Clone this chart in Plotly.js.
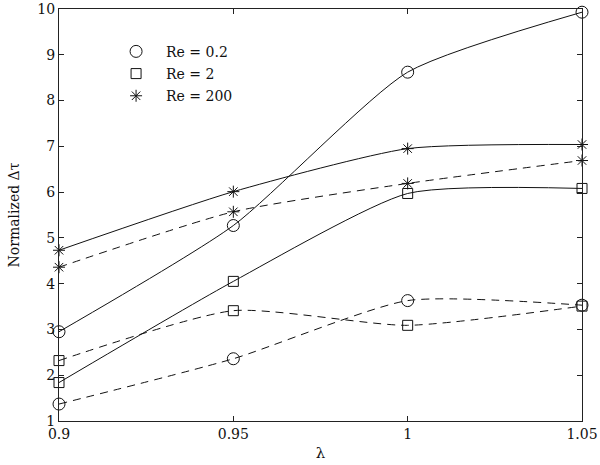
<!DOCTYPE html>
<html>
<head>
<meta charset="utf-8">
<script src="https://cdn.plot.ly/plotly-3.0.1.min.js"></script>
<style>html,body{margin:0;padding:0;background:#fff;}#chart{width:600px;height:465px;}</style>
</head>
<body>
<div id="chart"></div>
<script>
const lambda = [0.9, 0.95, 1.0, 1.05];
const re02Solid = [2.95, 5.27, 8.62, 9.93];
const re02Dashed = [1.37, 2.36, 3.63, 3.53];
const re2Solid = [1.84, 4.05, 5.97, 6.08];
const re2Dashed = [2.32, 3.41, 3.09, 3.51];
const re200Solid = [4.73, 6.01, 6.95, 7.04];
const re200Dashed = [4.36, 5.57, 6.19, 6.69];
const legendLabels = ['Re = 0.2', 'Re = 2', 'Re = 200'];
const xTicks = [0.9, 0.95, 1, 1.05];
const yTicks = [1, 2, 3, 4, 5, 6, 7, 8, 9, 10];

const FONT = "DejaVu Serif, serif";
const symbols = ['circle-open', 'square-open', 'asterisk-open'];
const sizes = [12, 10, 10];
const series = [
  {y: re02Solid, s: 0, dash: 'solid'},
  {y: re02Dashed, s: 0, dash: '8px,6px'},
  {y: re2Solid, s: 1, dash: 'solid'},
  {y: re2Dashed, s: 1, dash: '8px,6px'},
  {y: re200Solid, s: 2, dash: 'solid'},
  {y: re200Dashed, s: 2, dash: '8px,6px'}
];
const traces = series.map(d => ({
  x: lambda, y: d.y, type: 'scatter', mode: 'lines+markers',
  line: {color: '#111', width: 1, shape: 'spline', smoothing: 0.6, dash: d.dash},
  marker: {symbol: symbols[d.s], size: sizes[d.s], color: '#111', line: {width: 1, color: '#111'}},
  showlegend: false, cliponaxis: false
}));
legendLabels.forEach((name, i) => {
  traces.push({
    x: [null], y: [null], type: 'scatter', mode: 'markers', name: name,
    legendgroup: 'g' + i,
    marker: {symbol: symbols[i], size: sizes[i], color: '#111', line: {width: 1, color: '#111'}},
    showlegend: true
  });
});

const layout = {
  width: 600, height: 465,
  margin: {l: 59, r: 18, t: 9, b: 44},
  paper_bgcolor: '#fff', plot_bgcolor: '#fff',
  font: {family: FONT, size: 14, color: '#111'},
  showlegend: true,
  legend: {x: 0.09, y: 0.935, xanchor: 'left', yanchor: 'top', bgcolor: 'rgba(0,0,0,0)',
           itemwidth: 50,
           font: {family: FONT, size: 14, color: '#111'}, traceorder: 'grouped', tracegroupgap: 1},
  xaxis: {
    range: [0.9, 1.05], tickvals: xTicks, ticktext: xTicks.map(String),
    showline: true, linecolor: '#222', linewidth: 1, mirror: 'ticks',
    ticks: 'inside', ticklen: 5, tickcolor: '#222', showgrid: false, zeroline: false,
    title: {text: 'λ', font: {family: FONT, size: 15}, standoff: 6}
  },
  yaxis: {
    range: [1, 10], tickvals: yTicks,
    showline: true, linecolor: '#222', linewidth: 1, mirror: 'ticks',
    ticks: 'inside', ticklen: 5, tickcolor: '#222', showgrid: false, zeroline: false,
    title: {text: 'Normalized Δτ', font: {family: FONT, size: 14}, standoff: 14}
  }
};
Plotly.newPlot('chart', traces, layout, {displayModeBar: false, staticPlot: true});
</script>
</body>
</html>
